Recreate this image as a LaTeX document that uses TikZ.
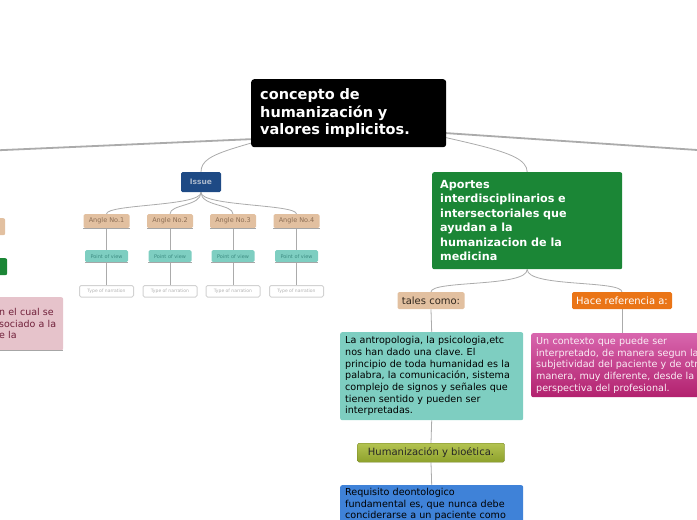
\documentclass[tikz,border=0pt]{standalone}
\usepackage{fontspec}
\setmainfont{DejaVu Sans}
\usetikzlibrary{positioning,backgrounds}
\frenchspacing

\definecolor{tanbox}{HTML}{E2C0A0}
\definecolor{tantext}{HTML}{8C6E55}
\definecolor{tealbox}{HTML}{7ECEC1}
\definecolor{tealtext}{HTML}{3D8C82}
\definecolor{issueblue}{HTML}{1E4A85}
\definecolor{issuetext}{HTML}{AAB8CC}
\definecolor{mapgreen}{HTML}{1B8636}
\definecolor{maporange}{HTML}{EA7517}
\definecolor{pinktop}{HTML}{D866AE}
\definecolor{pinkbot}{HTML}{B2216E}
\definecolor{olivetop}{HTML}{B3C352}
\definecolor{olivebot}{HTML}{8EA12C}
\definecolor{mapblue}{HTML}{3F82D8}
\definecolor{rosebox}{HTML}{E6C3CB}
\definecolor{rosetext}{HTML}{70203A}
\definecolor{linkgray}{HTML}{ABABAB}

\tikzset{
  topic/.style={rounded corners=2pt, anchor=north west, inner ysep=0pt, align=left},
  small/.style={rounded corners=1.5pt, inner sep=0pt, anchor=north},
  link/.style={draw=linkgray, line width=0.8pt},
  trunk/.style={draw=linkgray, line width=1.8pt},
  under/.style={draw=gray!70, line width=0.6pt},
}

\begin{document}
\begin{tikzpicture}[x=1pt, y=-1pt]
  \useasboundingbox (0,0) rectangle (697,520);
  \clip (0,0) rectangle (697,520);

  % main topic
  \node[topic, fill=black, rounded corners=3pt, text=white, minimum width=195, minimum height=68,
        text width=177, inner xsep=9, font=\bfseries\fontsize{14.5}{17.5}\selectfont]
        (title) at (251,79) {concepto de\\humanización y\\valores implicitos.};

  % left branch, cut by the page edge
  \node[topic, fill=tanbox, minimum width=40, minimum height=17] (lefttan) at (-35,218) {};
  \node[topic, fill=mapgreen, minimum width=40, minimum height=17] (leftgreen) at (-33,258) {};
  \node[topic, fill=rosebox, text=rosetext, minimum width=110, minimum height=53, text width=110,
        inner xsep=0, font=\fontsize{9.5}{11.7}\selectfont]
        (leftrose) at (-47,297) {\hspace*{46pt}n el cual se\\\hspace*{46pt}sociado a la\\\hspace*{46pt}e la\\[11.7pt]};
  \draw[under] (leftrose.south west) -- (leftrose.south east);

  % Issue subtree
  \node[small, fill=issueblue, text=issuetext, minimum width=40, minimum height=20,
        font=\bfseries\fontsize{7.5}{9}\selectfont] (issue) at (201,172) {Issue};
  \foreach \i/\x in {1/106.5,2/170,3/233,4/296.5}{
    \node[small, fill=tanbox, text=tantext, minimum width=46, minimum height=14,
          font=\fontsize{6.5}{8}\selectfont] (angle\i) at (\x,214) {Angle No.\i};
    \draw[under] (angle\i.south west) -- (angle\i.south east);
    \node[small, fill=tealbox, text=tealtext, minimum width=43, minimum height=12,
          font=\fontsize{5}{6}\selectfont] (view\i) at (\x,250) {Point of view};
    \draw[under] (view\i.south west) -- (view\i.south east);
    \node[small, fill=white, draw=gray!35, line width=1pt, text=gray!60, minimum width=54,
          minimum height=11.5, font=\fontsize{4.5}{5}\selectfont] (narr\i) at (\x,285) {Type of narration};
  }

  % right subtree
  \node[topic, fill=mapgreen, text=white, minimum width=190, minimum height=97, text width=174,
        inner xsep=8, font=\bfseries\fontsize{11.2}{14.5}\selectfont]
        (aportes) at (432,172) {Aportes\\interdisciplinarios e\\intersectoriales que\\ayudan a la\\humanizacion de la\\medicina};
  \node[small, fill=tanbox, text=black!65!tantext, minimum width=67, minimum height=17,
        font=\fontsize{10}{12}\selectfont] (tales) at (431,292) {tales como:};
  \node[small, fill=maporange, text=white, minimum width=100, minimum height=17,
        font=\fontsize{10}{12}\selectfont] (hace) at (622,292) {Hace referencia a:};
  \node[topic, fill=tealbox, text=black, minimum width=183, minimum height=88, text width=173,
        inner xsep=5, font=\fontsize{9.6}{11.7}\selectfont]
        (antro) at (340,332) {La antropologia, la psicologia,etc\\nos han dado una clave. El\\principio de toda humanidad es la\\palabra, la comunicación, sistema\\complejo de signos y señales que\\tienen sentido y pueden ser\\interpretadas.};
  \node[topic, top color=pinktop, bottom color=pinkbot, text=white!88!pinktop, minimum width=183,
        minimum height=64, text width=173, inner xsep=5, font=\fontsize{9.6}{11.7}\selectfont]
        (contexto) at (531,333) {Un contexto que puede ser\\interpretado, de manera segun la\\subjetividad del paciente y de otra\\manera, muy diferente, desde la\\perspectiva del profesional.};
  \node[small, top color=olivetop, bottom color=olivebot, draw=olivebot!80!black, line width=0.4pt,
        text=black!85, minimum width=147, minimum height=19, font=\fontsize{10}{12}\selectfont]
        (bioetica) at (431,443) {Humanización y bioética.};
  \node[topic, fill=mapblue, text=black, minimum width=183, text width=173,
        inner xsep=5, inner ysep=3, font=\fontsize{9.6}{11.7}\selectfont]
        (requisito) at (340,485) {Requisito deontologico\\fundamental es, que nunca debe\\conciderarse a un paciente como\\[30pt]};

  % connectors
  \begin{pgfonlayer}{background}
    \coordinate (lhub) at (300,137);
    \coordinate (leftroot) at (-30,151.5);
    \coordinate (rhub) at (400,130);
    \coordinate (rightroot) at (730,152.2);
    \draw[trunk] (lhub) -- (leftroot);
    \draw[trunk] (rhub) -- (rightroot);
    \draw[link] (title.center) .. controls (240,150) and (201,150) .. (issue.north);
    \draw[link] (title.center) .. controls (460,145) and (527,148) .. (aportes.north);
    \foreach \i in {1,...,4}{
      \draw[link] (issue.south) .. controls +(0,14) and +(0,-10) .. (angle\i.north);
      \draw[link] (angle\i.south) -- (view\i.north);
      \draw[link] (view\i.south) -- (narr\i.north);
    }
    \draw[link] (aportes.south) .. controls +(0,18) and +(0,-12) .. (tales.north);
    \draw[link] (aportes.south) .. controls +(0,18) and +(0,-12) .. (hace.north);
    \draw[link] (tales.south) -- (antro.north);
    \draw[link] (hace.south) -- (contexto.north -| hace.south);
    \draw[link] (antro.south) -- (bioetica.north);
    \draw[link] (bioetica.south) -- (requisito.north);
  \end{pgfonlayer}
\end{tikzpicture}
\end{document}
